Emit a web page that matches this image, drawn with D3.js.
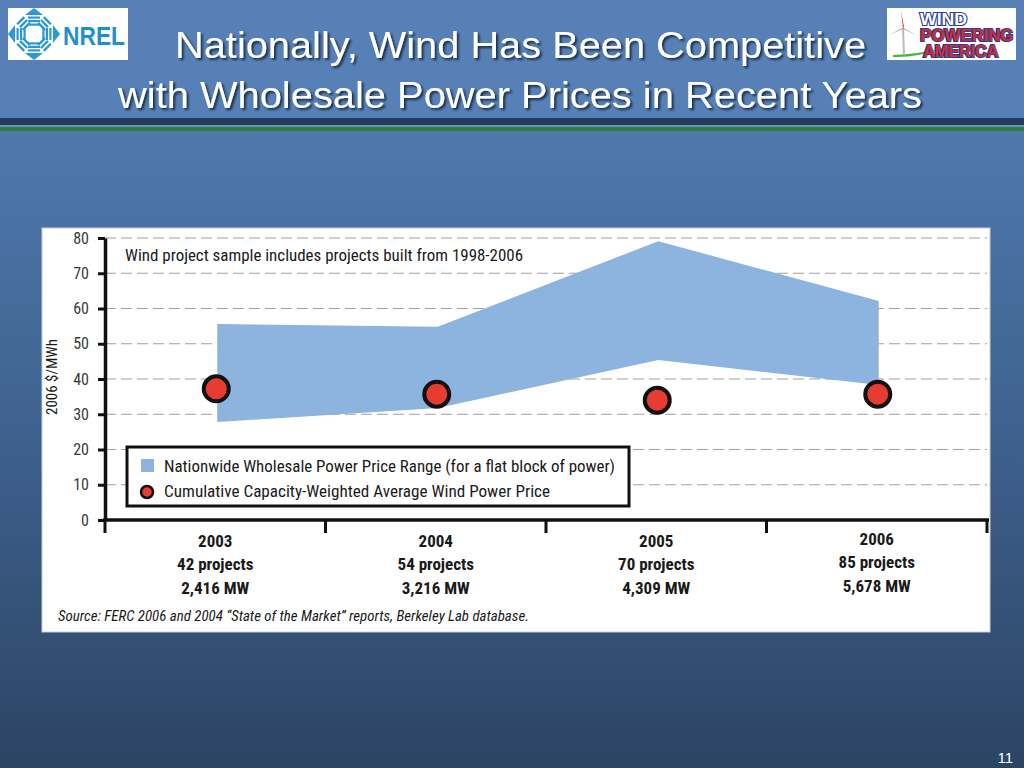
<!DOCTYPE html>
<html>
<head>
<meta charset="utf-8">
<script src="https://cdn.jsdelivr.net/npm/d3@7"></script>
<style>
  html, body { margin: 0; padding: 0; background: #3d5f8c; }
  svg { display: block; }
</style>
</head>
<body>
<svg id="chart" width="1024" height="768"></svg>
<script>
// ---------------- DATA ----------------
const years = ["2003", "2004", "2005", "2006"];
const projectCounts = ["42 projects", "54 projects", "70 projects", "85 projects"];
const capacities = ["2,416 MW", "3,216 MW", "4,309 MW", "5,678 MW"];
const priceRangeLow = [27.8, 31.8, 45.4, 38.3];
const priceRangeHigh = [55.6, 54.8, 79.1, 62.1];
const windPrice = [37.2, 35.7, 34.0, 35.7];
const yTicks = [0, 10, 20, 30, 40, 50, 60, 70, 80];

const titleLines = ["Nationally, Wind Has Been Competitive", "with Wholesale Power Prices in Recent Years"];
const noteText = "Wind project sample includes projects built from 1998-2006";
const legendLabels = ["Nationwide Wholesale Power Price Range (for a flat block of power)",
                      "Cumulative Capacity-Weighted Average Wind Power Price"];
const yLabel = "2006 $/MWh";
const sourceText = "Source: FERC 2006 and 2004 \u201CState of the Market\u201D reports, Berkeley Lab database.";
const pageNumber = "11";

// ---------------- STYLE ----------------
const NARROW = "'Liberation Sans Narrow','Arial Narrow','Roboto Condensed','DejaVu Sans Condensed',sans-serif";
const SANS = "'Liberation Sans', Arial, Helvetica, sans-serif";
const areaColor = "#8db3df";
const dotColor = "#e63c32";

const svg = d3.select("#chart");
const defs = svg.append("defs");

// background gradient
const bg = defs.append("linearGradient").attr("id", "bg").attr("x1", 0).attr("y1", 0).attr("x2", 0).attr("y2", 1);
bg.append("stop").attr("offset", "0").attr("stop-color", "#5881b7");
bg.append("stop").attr("offset", "0.16").attr("stop-color", "#5079ad");
bg.append("stop").attr("offset", "0.55").attr("stop-color", "#3f6290");
bg.append("stop").attr("offset", "1").attr("stop-color", "#2c4464");
svg.append("rect").attr("width", 1024).attr("height", 768).attr("fill", "url(#bg)");
svg.append("rect").attr("width", 1024).attr("height", 118).attr("fill", "#5680b6");

// header rules
svg.append("rect").attr("x", 0).attr("y", 118).attr("width", 1024).attr("height", 7).attr("fill", "#233a5c");
svg.append("rect").attr("x", 0).attr("y", 125).attr("width", 1024).attr("height", 2).attr("fill", "#6b8fbf");
svg.append("rect").attr("x", 0).attr("y", 127).attr("width", 1024).attr("height", 4).attr("fill", "#2f7d3f");

// title shadow filter
const f = defs.append("filter").attr("id", "shadow").attr("x", "-5%").attr("y", "-20%").attr("width", "110%").attr("height", "150%");
f.append("feDropShadow").attr("dx", 2).attr("dy", 2).attr("stdDeviation", 0.8)
  .attr("flood-color", "#0f1c30").attr("flood-opacity", 0.85);

const titleY = [58, 108];
const titleX = [175, 118];
const titleW = [691, 804];
svg.append("g").attr("filter", "url(#shadow)")
  .selectAll("text").data(titleLines).join("text")
  .attr("x", (d, i) => titleX[i]).attr("y", (d, i) => titleY[i])
  .attr("textLength", (d, i) => titleW[i]).attr("lengthAdjust", "spacingAndGlyphs")
  .attr("font-family", SANS).attr("font-size", 37).attr("fill", "#ffffff")
  .text(d => d);

// ---------------- NREL LOGO ----------------
const nrel = svg.append("g");
nrel.append("rect").attr("x", 8).attr("y", 8).attr("width", 120).attr("height", 52).attr("fill", "#ffffff");
const nc = nrel.append("g").attr("transform", "translate(34,34)").attr("fill", "#2a9ad6");
[0, 90, 180, 270].forEach(a => {
  const g = nc.append("g").attr("transform", `rotate(${a})`);
  g.append("path").attr("d", "M-9,-19 L9,-19 L0,-26 Z");
  g.append("rect").attr("x", -6).attr("y", -17.5).attr("width", 12).attr("height", 2.2);
  g.append("rect").attr("x", -6).attr("y", -14).attr("width", 12).attr("height", 2.2);
  g.append("rect").attr("x", -6).attr("y", -10.5).attr("width", 12).attr("height", 2.2);
});
[45, 135, 225, 315].forEach(a => {
  const g = nc.append("g").attr("transform", `rotate(${a})`);
  g.append("rect").attr("x", -5).attr("y", -20).attr("width", 10).attr("height", 2.4);
  g.append("rect").attr("x", -5).attr("y", -16).attr("width", 10).attr("height", 2.4);
  g.append("rect").attr("x", -5).attr("y", -12).attr("width", 10).attr("height", 2.4);
});
nrel.append("text").attr("x", 63).attr("y", 45).attr("textLength", 62).attr("lengthAdjust", "spacingAndGlyphs")
  .attr("font-family", SANS).attr("font-weight", "bold").attr("font-size", 25).attr("fill", "#1f8fd0").text("NREL");

// ---------------- WIND POWERING AMERICA LOGO ----------------
const wpa = svg.append("g");
wpa.append("rect").attr("x", 887).attr("y", 8).attr("width", 129).attr("height", 52).attr("fill", "#ffffff");
wpa.append("path").attr("d", "M893,57 Q915,58 945,48 Q918,54 893,55 Z").attr("fill", "#3dbb3a");
wpa.append("line").attr("x1", 903).attr("y1", 28).attr("x2", 904).attr("y2", 55).attr("stroke", "#bbbbbb").attr("stroke-width", 2);
wpa.append("path").attr("d", "M903,28 L901,11 L904,27 Z").attr("fill", "#d42a2a");
wpa.append("path").attr("d", "M903,28 L918,36 L904,29 Z").attr("fill", "#222");
wpa.append("path").attr("d", "M903,28 L889,35 L902,29 Z").attr("fill", "#222");
const wpaText = [["WIND", 25, 920, 967], ["POWERING", 41, 920, 1013], ["AMERICA", 57, 923, 998]];
const wpaFill = ["#ffffff", "#d42a2a", "#d42a2a"];
wpa.selectAll("text.w").data(wpaText).join("text").attr("class", "w")
  .attr("x", d => d[2]).attr("y", d => d[1])
  .attr("textLength", d => d[3] - d[2]).attr("lengthAdjust", "spacingAndGlyphs")
  .attr("font-family", SANS).attr("font-weight", "bold").attr("font-size", 16)
  .attr("fill", (d, i) => wpaFill[i]).attr("stroke", "#2c3f95").attr("stroke-width", 2.2)
  .attr("paint-order", "stroke")
  .text(d => d[0]);

// ---------------- CHART PANEL ----------------
svg.append("rect").attr("x", 42).attr("y", 228).attr("width", 948).attr("height", 404)
  .attr("fill", "#ffffff").attr("stroke", "#c8ccd2").attr("stroke-width", 1);

const x = d3.scaleBand().domain(years).range([105, 987]).padding(0);
const y = d3.scaleLinear().domain([0, 80]).range([520, 238]);
const cx = d => x(d) + x.bandwidth() / 2;

// gridlines
svg.append("g").selectAll("line").data(yTicks.filter(t => t > 0)).join("line")
  .attr("x1", 105).attr("x2", 987).attr("y1", d => y(d)).attr("y2", d => y(d))
  .attr("stroke", "#a0a0a0").attr("stroke-width", 1.2).attr("stroke-dasharray", "11,5");

// price range area
const rangeData = years.map((yr, i) => ({ yr, lo: priceRangeLow[i], hi: priceRangeHigh[i] }));
const area = d3.area().x(d => cx(d.yr) + 2).y0(d => y(d.lo)).y1(d => y(d.hi));
svg.append("path").datum(rangeData).attr("d", area).attr("fill", areaColor);

// note text
svg.append("text").attr("x", 125).attr("y", 261).attr("textLength", 398).attr("lengthAdjust", "spacingAndGlyphs")
  .attr("font-family", NARROW).attr("font-size", 16).attr("fill", "#1a1a1a").text(noteText);

// legend
const lg = svg.append("g");
lg.append("rect").attr("x", 127).attr("y", 447).attr("width", 502).attr("height", 59)
  .attr("fill", "#ffffff").attr("stroke", "#111").attr("stroke-width", 3);
lg.append("rect").attr("x", 141).attr("y", 459).attr("width", 13).attr("height", 13).attr("fill", areaColor);
lg.append("circle").attr("cx", 147).attr("cy", 492).attr("r", 6).attr("fill", dotColor)
  .attr("stroke", "#111").attr("stroke-width", 2.5);
const legW = [451, 386];
lg.selectAll("text").data(legendLabels).join("text")
  .attr("x", 164).attr("y", (d, i) => [472, 497][i])
  .attr("textLength", (d, i) => legW[i]).attr("lengthAdjust", "spacingAndGlyphs")
  .attr("font-family", NARROW).attr("font-size", 16).attr("fill", "#1a1a1a").text(d => d);

// wind price dots
svg.append("g").selectAll("circle").data(years).join("circle")
  .attr("cx", d => cx(d) + 1).attr("cy", (d, i) => y(windPrice[i])).attr("r", 12.5)
  .attr("fill", dotColor).attr("stroke", "#111").attr("stroke-width", 4);

// y axis
const yAxis = svg.append("g").attr("transform", "translate(105,0)")
  .call(d3.axisLeft(y).tickValues(yTicks).tickSize(7).tickSizeOuter(0).tickPadding(9));
yAxis.select(".domain").attr("stroke", "#111").attr("stroke-width", 3.5);
yAxis.selectAll(".tick line").attr("stroke", "#111").attr("stroke-width", 3);
yAxis.selectAll(".tick text").attr("font-family", NARROW).attr("font-size", 16).attr("fill", "#3a3a3a");

// y label
svg.append("text").attr("transform", "translate(57,377) rotate(-90)").attr("text-anchor", "middle")
  .attr("font-family", NARROW).attr("font-size", 15).attr("fill", "#1a1a1a").text(yLabel);

// x axis (band boundaries as ticks)
const boundaries = years.map(d => x(d)).concat([x.range()[1]]);
const xAxisG = svg.append("g");
xAxisG.append("line").attr("x1", 103).attr("x2", 989).attr("y1", 520).attr("y2", 520)
  .attr("stroke", "#111").attr("stroke-width", 3.5);
xAxisG.selectAll("line.t").data(boundaries).join("line").attr("class", "t")
  .attr("x1", d => d).attr("x2", d => d).attr("y1", 520).attr("y2", 533)
  .attr("stroke", "#111").attr("stroke-width", 3);

// x labels: three lines per category
const xLabelRows = [years, projectCounts, capacities];
const rowY = [547, 570, 594];
xLabelRows.forEach((row, r) => {
  svg.append("g").selectAll("text").data(row).join("text")
    .attr("x", (d, i) => cx(years[i])).attr("y", (d, i) => rowY[r] - (i === 3 ? 2 : 0))
    .attr("text-anchor", "middle").attr("font-family", NARROW).attr("font-weight", "bold")
    .attr("font-size", 17).attr("fill", "#1a1a1a").text(d => d);
});

// source
svg.append("text").attr("x", 58).attr("y", 621).attr("textLength", 471).attr("lengthAdjust", "spacingAndGlyphs")
  .attr("font-family", NARROW).attr("font-style", "italic").attr("font-size", 14).attr("fill", "#1a1a1a")
  .text(sourceText);

// page number
svg.append("text").attr("x", 1013).attr("y", 763).attr("text-anchor", "end")
  .attr("font-family", SANS).attr("font-size", 15).attr("fill", "#ffffff").text(pageNumber);
</script>
</body>
</html>
